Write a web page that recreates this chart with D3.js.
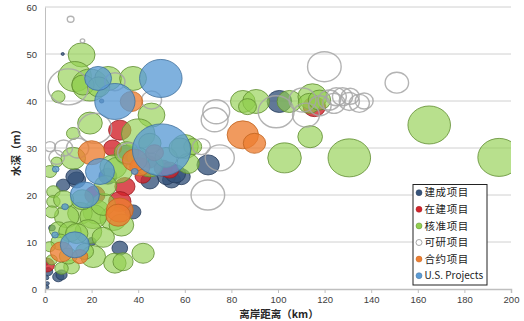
<!DOCTYPE html>
<html><head><meta charset="utf-8">
<script src="https://cdn.jsdelivr.net/npm/d3@7"></script>
<style>
html,body{margin:0;padding:0;background:#fff;}
svg text{font-family:"Liberation Sans",Arial,sans-serif;}
</style></head>
<body><svg id="c" width="524" height="321"></svg>
<script>
// [distance km, depth m, capacity]
const built = [[7.6,50,2],[24.3,40,4],[100.6,39.9,121],[70,26.4,100],[54.3,23.2,64],[58.5,23.9,64],[52.1,23.9,64],[35,28.5,100],[13.6,23.2,64],[7.8,22.1,36],[12.8,23.9,64],[32.1,8.7,49],[37.8,16.4,49],[20,10.1,16],[5.7,2.6,25],[1.4,3.7,16],[7.1,3,25],[0.7,2.4,4],[0.7,0.4,4],[1,1.2,3],[0.5,5.5,4],[3,13,9],[27,24,64],[45,23,64],[56,24.5,81]];
const underConstruction = [[32.1,33.8,100],[34.3,21.8,81],[21.4,20,81],[32.1,18.6,100],[50.7,25.7,64],[53.5,25.3,64],[115.6,38.8,100],[0.7,5.1,49],[42,24,49],[45,27,36],[29,30,64]];
const approved = [[164.9,34.9,361],[130.6,27.9,361],[194.9,28,361],[102.8,27.9,225],[113.8,32.4,121],[84.9,39.9,121],[90.6,39.9,144],[86.9,38.8,64],[104.9,39.9,121],[114.8,40.9,169],[113.5,39.5,100],[117.8,40.2,100],
[15.7,49.8,144],[12.8,45.2,225],[19.3,43.4,256],[16.3,43.4,100],[27.1,44.8,144],[37.8,44.8,144],[5.7,40.9,36],[45.7,37,144],[19.3,35.3,121],[12.1,33.1,36],[23,43,100],
[12.1,27.8,121],[29.3,26,144],[31.4,25.3,169],[45,26.4,144],[60,30.3,144],[61.4,26.7,100],[63.4,30.3,64],[2.1,25,36],[3.6,20.7,36],[3.6,18.6,36],[22.1,16.4,144],[29.3,15,144],[32.8,13.6,121],[15,16.1,121],[20.7,15.4,144],[9.3,15.4,121],[5.7,12.6,64],[2.9,16.4,36],[18.6,12.2,144],[10.7,12.2,100],[6.4,10,64],[11.4,4.7,49],[2.9,6.2,25],[20.7,6.9,121],[30,5.5,100],[33.5,5.8,81],[42.1,7.6,100],[7.1,4.4,36],[13.6,11.8,100],[25,18,121],[16,19,100],[8,19,81],[25,11,100],[26,22,100],[40,33,225],[45,31,100],[52,28,100],[40,28,100],[58,30,100],[35,29,121],[2,9,25],[5,27,25],[17,8,64],[10,7,64]];
const feasibility = [[11,57.4,9],[16.1,52.8,4],[10,43,324],[30,44.1,81],[45.7,40.2,81],[21.4,34.2,225],[2.1,30.3,25],[8,30,64],[5,28,49],[14,30,100],[67.1,30.3,64],[75,27.9,169],[69.9,20,225],[73.5,37.7,144],[72.8,36,144],[99.2,37.7,256],[110.5,40.2,144],[112,37,144],[119.9,47.3,225],[122,40.2,100],[125,40.9,81],[127.7,40.9,81],[130.6,39.9,81],[134.9,39.5,81],[124,39.5,100],[151,43.9,110],[118,39,100],[131,41,64],[137,40,64],[36,29,100]];
const contracted = [[37.1,39.9,100],[20,29,144],[84.9,32.8,196],[89.9,31,100],[40.7,26,81],[38.5,27.4,121],[32.1,16.8,144],[31.4,15.7,121],[7.1,7.9,100],[15,6.9,49],[47,29,64]];
const usProjects = [[49.7,44.8,361],[30,39.9,324],[22.8,44.8,144],[50,29.6,676],[23.6,25,169],[17.1,20,169],[12.8,9.4,169],[4.6,25.5,9],[38.5,25,9],[4.3,11.5,9],[8.6,17.5,9]];

const seriesNames = ["建成项目","在建项目","核准项目","可研项目","合约项目","U.S. Projects"];
const xTicks = [0,20,40,60,80,100,120,140,160,180,200];
const yTicks = [0,10,20,30,40,50,60];

const styles = [
 {fill:"#35527a", op:0.78, stroke:"#263c5c"},
 {fill:"#d2232a", op:0.8, stroke:"#9b1c20"},
 {fill:"#92d050", op:0.65, stroke:"#5f8c2f"},
 {fill:"none", op:1, stroke:"#a6a6a6"},
 {fill:"#ed7d31", op:0.78, stroke:"#c0641f"},
 {fill:"#5b9bd5", op:0.78, stroke:"#41719c"}
];
const allSeries = [built, underConstruction, approved, feasibility, contracted, usProjects];

const svg = d3.select("#c");
const L=45, R=511, T=7, B=289;
const x = d3.scaleLinear().domain([0,200]).range([L,R]);
const y = d3.scaleLinear().domain([0,60]).range([B,T]);
const r = d3.scaleSqrt().domain([0,784]).range([0,28]);
const asp = 1.12;

// gridlines
svg.append("g").selectAll("line").data(yTicks.filter(d=>d>0)).join("line")
 .attr("x1",L).attr("x2",R).attr("y1",d=>y(d)).attr("y2",d=>y(d))
 .attr("stroke","#d0d0d0").attr("stroke-width",1);

svg.append("defs").append("clipPath").attr("id","pc").append("rect")
 .attr("x",L).attr("y",T).attr("width",R-L).attr("height",B-T);

const g = svg.append("g").attr("clip-path","url(#pc)");
allSeries.forEach((s,i)=>{
  const st = styles[i];
  g.append("g").selectAll("ellipse").data(s).join("ellipse")
   .attr("cx",d=>x(d[0])).attr("cy",d=>y(d[1]))
   .attr("rx",d=>r(d[2])*asp).attr("ry",d=>r(d[2]))
   .attr("fill",st.fill).attr("fill-opacity",st.op)
   .attr("stroke",st.stroke).attr("stroke-width",i===3?1.4:1)
   .attr("stroke-opacity",i===3?0.85:0.8);
});

// axes
const xa = svg.append("g").attr("transform",`translate(0,${B})`)
 .call(d3.axisBottom(x).tickValues(xTicks).tickSize(4).tickPadding(3));
xa.select(".domain").attr("stroke","#bfbfbf").attr("stroke-width",1.5);
xa.selectAll(".tick line").attr("stroke","#bfbfbf");
xa.selectAll("text").attr("font-size",9.5).attr("fill","#404040");

const ya = svg.append("g").attr("transform",`translate(${L},0)`)
 .call(d3.axisLeft(y).tickValues(yTicks).tickSize(0).tickPadding(8));
ya.select(".domain").attr("stroke","#bfbfbf");
ya.selectAll("text").attr("font-size",9.5).attr("fill","#404040");

svg.append("text").attr("x",279).attr("y",318).attr("text-anchor","middle")
 .attr("font-size",10.5).attr("font-weight","bold").attr("fill","#262626")
 .style("font-family","'Noto Sans CJK SC',sans-serif").text("离岸距离（km）");
svg.append("text").attr("transform","translate(20,150) rotate(-90)").attr("text-anchor","middle")
 .attr("font-size",10.5).attr("font-weight","bold").attr("fill","#262626")
 .style("font-family","'Noto Sans CJK SC',sans-serif").text("水深（m）");

// legend
const lg = svg.append("g");
lg.append("rect").attr("x",413).attr("y",184.5).attr("width",74).attr("height",100.5)
 .attr("fill","#fff").attr("stroke","#222").attr("stroke-width",1);
seriesNames.forEach((n,i)=>{
  const yy = 192.7 + i*16.6;
  const st = styles[i];
  lg.append("circle").attr("cx",419).attr("cy",yy).attr("r",3)
   .attr("fill",i===3?"#fff":st.fill).attr("stroke",st.stroke).attr("stroke-width",i===3?1:0.5);
  lg.append("text").attr("x",424.5).attr("y",yy).attr("dy","0.36em")
   .attr("font-size",i===5?10:10.5).attr("fill","#222").attr("letter-spacing",i===5?0:0.6)
   .style("font-family","'Noto Sans CJK SC',sans-serif").text(n);
});
</script></body></html>
